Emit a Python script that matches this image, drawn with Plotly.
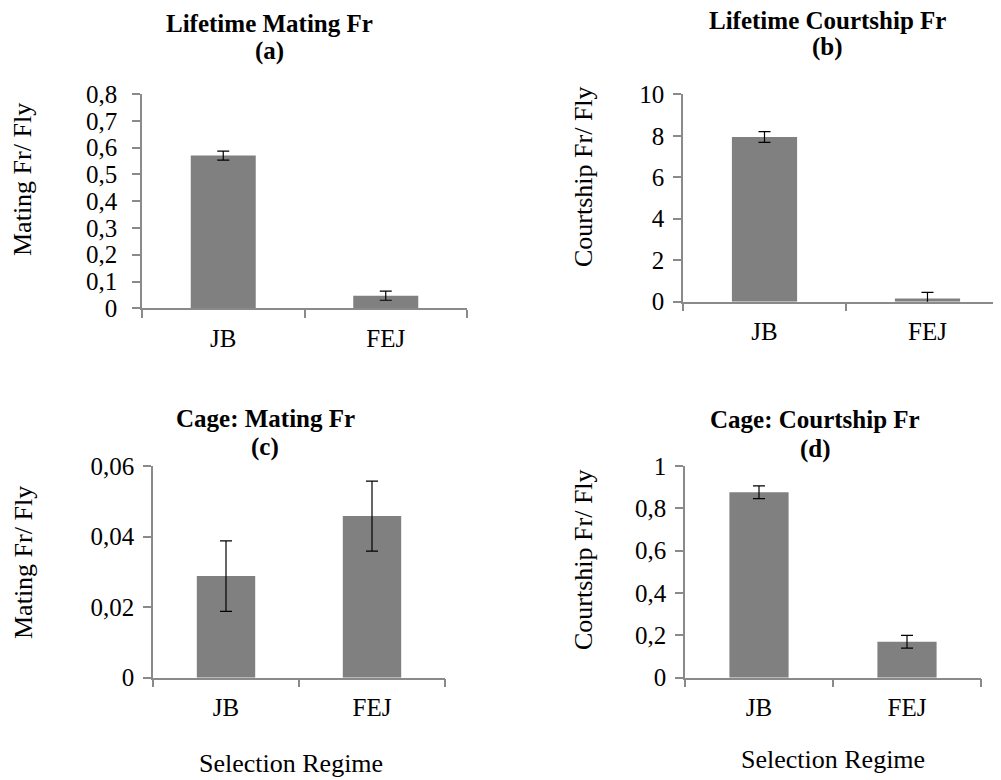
import plotly.graph_objects as go

# ---------------- data ----------------
categories = ["JB", "FEJ"]

lifetime_mating = [0.570, 0.047]
lifetime_mating_err = [0.017, 0.017]

lifetime_courtship = [7.94, 0.15]
lifetime_courtship_err = [0.26, 0.30]

cage_mating = [0.0288, 0.0458]
cage_mating_err = [0.0100, 0.0099]

cage_courtship = [0.876, 0.170]
cage_courtship_err = [0.030, 0.030]

ticks_a = [0, 0.1, 0.2, 0.3, 0.4, 0.5, 0.6, 0.7, 0.8]
ticktext_a = ["0", "0,1", "0,2", "0,3", "0,4", "0,5", "0,6", "0,7", "0,8"]
ticks_b = [0, 2, 4, 6, 8, 10]
ticktext_b = ["0", "2", "4", "6", "8", "10"]
ticks_c = [0, 0.02, 0.04, 0.06]
ticktext_c = ["0", "0,02", "0,04", "0,06"]
ticks_d = [0, 0.2, 0.4, 0.6, 0.8, 1.0]
ticktext_d = ["0", "0,2", "0,4", "0,6", "0,8", "1"]

titles = ["Lifetime Mating Fr", "Lifetime Courtship Fr", "Cage: Mating Fr", "Cage: Courtship Fr"]
letters = ["(a)", "(b)", "(c)", "(d)"]
ytitles = ["Mating Fr/ Fly", "Courtship Fr/ Fly", "Mating Fr/ Fly", "Courtship Fr/ Fly"]
xtitle = "Selection Regime"

# ---------------- layout helpers ----------------
# the page body has an 8px margin, so the figure is drawn 8px in from the corner
OFF = 8
W, H = 1001 - OFF, 780 - OFF
FONT = "Liberation Serif, Times New Roman, DejaVu Serif, serif"
BAR = "#808080"
AX = "#8a8a8a"

def px_x(p):
    return (p - OFF) / W

def px_y(p):
    return 1 - (p - OFF) / H

panels = [
    dict(x0=142, x1=467, yb=308.3, yt=94.0, yr=[0, 0.8], tv=ticks_a, tt=ticktext_a, xr=[-0.5, 1.5],
         ysoff=10, vals=lifetime_mating, err=lifetime_mating_err),
    dict(x0=683, x1=1001, yb=301.7, yt=94.3, yr=[0, 10], tv=ticks_b, tt=ticktext_b, xr=[-0.5, 1.451],
         ysoff=4, vals=lifetime_courtship, err=lifetime_courtship_err),
    dict(x0=153, x1=445, yb=677.7, yt=466.0, yr=[0, 0.06], tv=ticks_c, tt=ticktext_c, xr=[-0.5, 1.5],
         ysoff=4, vals=cage_mating, err=cage_mating_err),
    dict(x0=685, x1=981, yb=677.7, yt=466.0, yr=[0, 1.0], tv=ticks_d, tt=ticktext_d, xr=[-0.5, 1.5],
         ysoff=4, vals=cage_courtship, err=cage_courtship_err),
]

fig = go.Figure()
layout = dict(
    template="none",
    width=W, height=H,
    margin=dict(l=0, r=0, t=0, b=0, pad=0, autoexpand=False),
    paper_bgcolor="white", plot_bgcolor="white",
    showlegend=False,
    bargap=0.6,
    font=dict(family=FONT, color="black", size=24),
)

for i, p in enumerate(panels):
    n = "" if i == 0 else str(i + 1)
    fig.add_trace(go.Bar(
        x=categories, y=p["vals"],
        marker=dict(color=BAR, line=dict(width=0)),
        error_y=dict(type="data", array=p["err"], visible=True,
                     color="black", thickness=1.2, width=6),
        xaxis="x" + n, yaxis="y" + n,
        hoverinfo="skip",
    ))
    layout["xaxis" + n] = dict(
        domain=[px_x(p["x0"]), min(1.0, px_x(p["x1"]))],
        anchor="y" + n, type="category", range=p["xr"], automargin=False,
        showline=True, linecolor=AX, linewidth=1.5,
        ticks="outside", tickson="boundaries", ticklen=8, tickcolor=AX, tickwidth=1.5,
        showgrid=False, zeroline=False,
        tickfont=dict(size=25, family=FONT, color="black"),
        ticklabelstandoff=7,
    )
    layout["yaxis" + n] = dict(
        domain=[px_y(p["yb"]), px_y(p["yt"])],
        anchor="x" + n, range=p["yr"], automargin=False,
        tickmode="array", tickvals=p["tv"], ticktext=p["tt"],
        showline=True, linecolor=AX, linewidth=1.5,
        ticks="outside", ticklen=8, tickcolor=AX, tickwidth=1.5,
        showgrid=False, zeroline=False,
        tickfont=dict(size=25, family=FONT, color="black"),
        ticklabelstandoff=p["ysoff"],
    )

fig.update_layout(**layout)

title_pos = [(269, 24, 51), (827, 21, 47), (265, 418, 447), (815, 419, 449)]
for t, l, (cx, y1, y2) in zip(titles, letters, title_pos):
    fig.add_annotation(text="<b>" + t + "</b>", x=px_x(cx), y=px_y(y1), xref="paper", yref="paper",
                       showarrow=False, xanchor="center", yanchor="middle",
                       font=dict(size=25, family=FONT, color="black"))
    fig.add_annotation(text="<b>" + l + "</b>", x=px_x(cx), y=px_y(y2), xref="paper", yref="paper",
                       showarrow=False, xanchor="center", yanchor="middle",
                       font=dict(size=25, family=FONT, color="black"))

ytitle_pos = [(22, 180), (583, 177), (23, 563), (583, 560)]
for t, (cx, cy) in zip(ytitles, ytitle_pos):
    fig.add_annotation(text=t, x=px_x(cx), y=px_y(cy), xref="paper", yref="paper",
                       showarrow=False, xanchor="center", yanchor="middle", textangle=-90,
                       font=dict(size=26, family=FONT, color="black"))

for cx, cy in [(291, 763), (833, 759)]:
    fig.add_annotation(text=xtitle, x=px_x(cx), y=px_y(cy), xref="paper", yref="paper",
                       showarrow=False, xanchor="center", yanchor="middle",
                       font=dict(size=26, family=FONT, color="black"))

fig.write_html("out.html")
